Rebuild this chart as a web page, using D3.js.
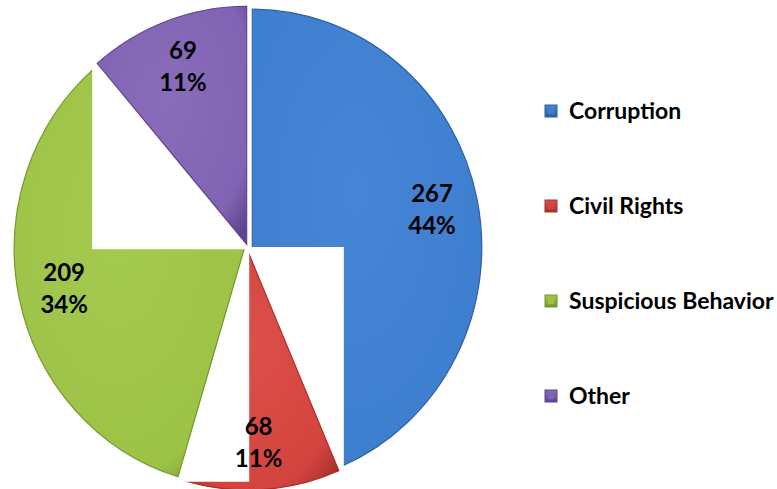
<!DOCTYPE html>
<html>
<head>
<meta charset="utf-8">
<script src="https://cdn.jsdelivr.net/npm/d3@7"></script>
<style>
  html, body { margin: 0; padding: 0; background: #ffffff; }
  svg { display: block; }
</style>
</head>
<body>
<svg id="chart" width="777" height="489"></svg>
<script>
// ---- data ----
const categories = ["Corruption", "Civil Rights", "Suspicious Behavior", "Other"];
const values = [267, 68, 209, 69];
const colors = ["#3e7ecf", "#d4443f", "#9cc246", "#8163b3"];
const darkColors = ["#2d5fa3", "#a8302c", "#76962e", "#5f4590"];
const lightColors = ["#4786d6", "#dc4f49", "#a5ca50", "#896cba"];

// ---- layout ----
const W = 777, H = 489;
const cx = 248, cy = 248;
const R = 238;            // vertical radius
const sx = 230 / R;       // horizontal squash
const explode = 4;
const pad = 5;

const svg = d3.select("#chart");
const defs = svg.append("defs");

categories.forEach((c, i) => {
  const g = defs.append("radialGradient").attr("id", "grad" + i)
    .attr("cx", "45%").attr("cy", "40%").attr("r", "75%");
  g.append("stop").attr("offset", "0%").attr("stop-color", lightColors[i]);
  g.append("stop").attr("offset", "80%").attr("stop-color", colors[i]);
  g.append("stop").attr("offset", "100%").attr("stop-color", darkColors[i]);
  const lg = defs.append("linearGradient").attr("id", "lgrad" + i)
    .attr("x1", 0).attr("y1", 0).attr("x2", 0).attr("y2", 1);
  lg.append("stop").attr("offset", "0%").attr("stop-color", lightColors[i]);
  lg.append("stop").attr("offset", "100%").attr("stop-color", darkColors[i]);
});

const pie = d3.pie().sort(null).value(d => d);
const arcs = pie(values);
const total = d3.sum(values);
const arc = d3.arc().innerRadius(0).outerRadius(R);

const pieLayer = svg.append("g");

arcs.forEach((a, i) => {
  const mid = (a.startAngle + a.endAngle) / 2;
  const tx = cx + explode * Math.sin(mid) * sx;
  const ty = cy - explode * Math.cos(mid);
  const grp = pieLayer.append("g")
    .attr("transform", `translate(${tx},${ty}) scale(${sx},1)`);
  const p = grp.append("path")
    .attr("d", arc(a))
    .attr("fill", `url(#grad${i})`)
    .attr("stroke", darkColors[i])
    .attr("stroke-width", 1.2)
    .attr("vector-effect", "non-scaling-stroke");
  // opaque bounding box behind each slice (as in the original rendering)
  const bb = p.node().getBBox();
  pieLayer.insert("rect", () => grp.node())
    .attr("x", tx + bb.x * sx - pad)
    .attr("y", ty + bb.y - pad)
    .attr("width", bb.width * sx + 2 * pad)
    .attr("height", bb.height + 2 * pad)
    .attr("fill", "#ffffff");
});

// ---- data labels ----
const labelLayer = svg.append("g")
  .attr("font-family", "Lato, 'Open Sans', sans-serif")
  .attr("font-weight", "bold")
  .attr("font-size", 24)
  .attr("fill", "#000")
  .attr("text-anchor", "middle");
const labelR = 0.8 * R;
arcs.forEach((a, i) => {
  const mid = (a.startAngle + a.endAngle) / 2;
  const lx = cx + (explode + labelR) * Math.sin(mid) * sx;
  const ly = cy - (explode + labelR) * Math.cos(mid);
  const pct = Math.round(values[i] / total * 100) + "%";
  labelLayer.append("text").attr("x", lx).attr("y", ly - 7).text(values[i]);
  labelLayer.append("text").attr("x", lx).attr("y", ly + 25).text(pct);
});

// ---- legend ----
const ly = d3.scalePoint().domain(categories).range([111, 396]);
const legend = svg.append("g")
  .attr("font-family", "Lato, 'Open Sans', sans-serif")
  .attr("font-weight", "bold")
  .attr("font-size", 23)
  .attr("fill", "#000");
categories.forEach((c, i) => {
  const y = ly(c);
  legend.append("rect")
    .attr("x", 545).attr("y", y - 6).attr("width", 12).attr("height", 12)
    .attr("fill", `url(#lgrad${i})`)
    .attr("stroke", darkColors[i]).attr("stroke-width", 1);
  legend.append("rect")
    .attr("x", 548).attr("y", y - 3).attr("width", 6).attr("height", 6)
    .attr("fill", colors[i]);
  legend.append("text").attr("x", 569).attr("y", y + 8).text(c);
});
</script>
</body>
</html>
